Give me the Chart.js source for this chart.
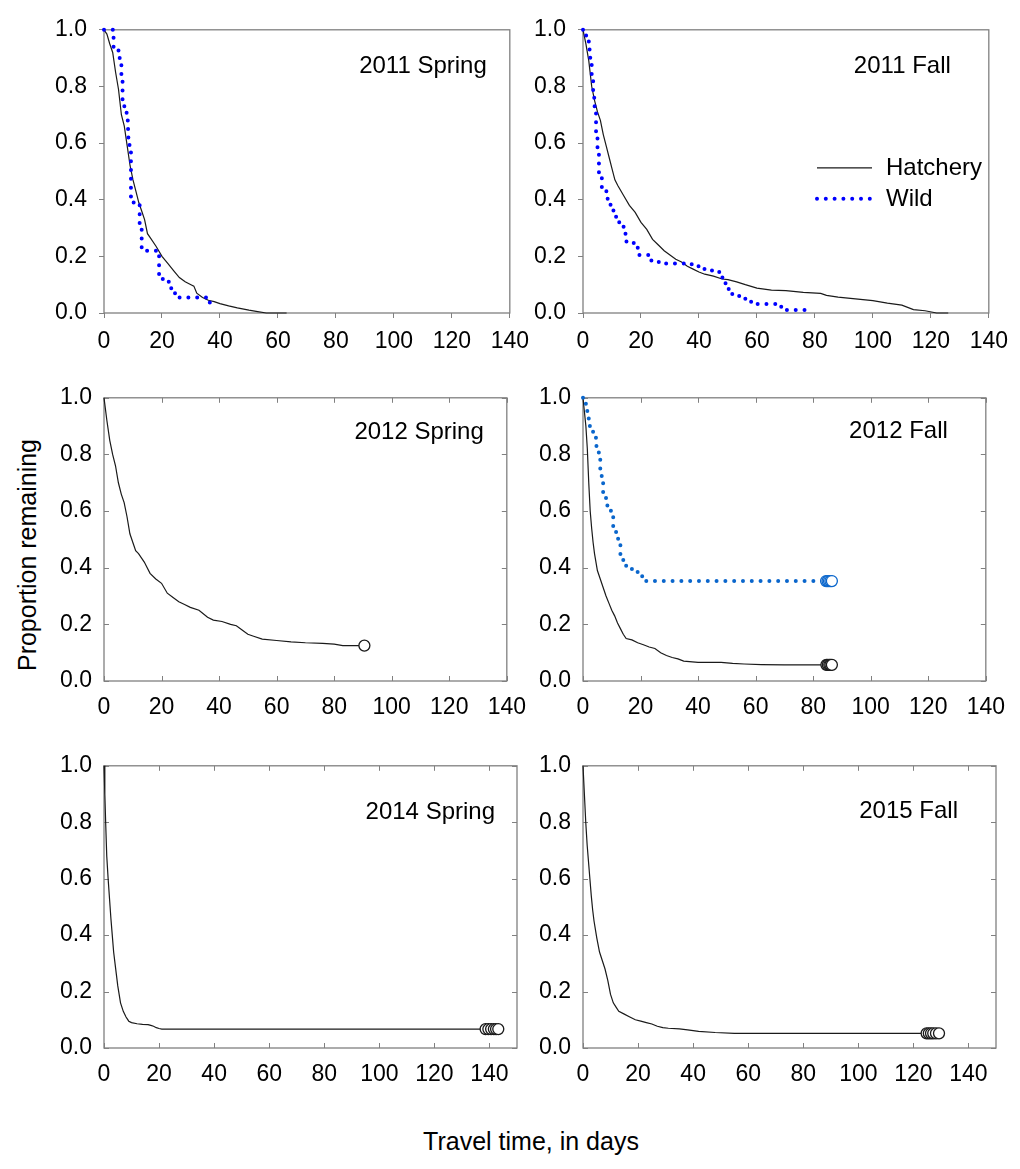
<!DOCTYPE html>
<html>
<head>
<meta charset="utf-8">
<script src="https://cdn.jsdelivr.net/npm/chart.js@4.4.1/dist/chart.umd.min.js"></script>
<style>
  html, body { margin: 0; padding: 0; background: #fff; overflow: hidden; }
  body { width: 1020px; height: 1169px; position: relative; font-family: "Liberation Sans", Arial, sans-serif; }
  canvas { position: absolute; }
  .axis-title { position: absolute; font-size: 25px; color: #000; white-space: nowrap; }
  #ytitle { left: 27px; top: 555px; transform: translate(-50%, -50%) rotate(-90deg); }
  #xtitle { left: 531px; top: 1141px; transform: translate(-50%, -50%); }
</style>
</head>
<body>
<canvas id="p1"></canvas>
<canvas id="p2"></canvas>
<canvas id="p3"></canvas>
<canvas id="p4"></canvas>
<canvas id="p5"></canvas>
<canvas id="p6"></canvas>
<div class="axis-title" id="ytitle">Proportion remaining</div>
<div class="axis-title" id="xtitle">Travel time, in days</div>
<script>
// 2011 Spring
const spr11HatchDays = [0, 1, 2, 3, 4, 5, 6, 7, 8, 9, 10, 11, 12, 13, 14, 15, 16, 18, 20, 22, 24, 26, 28, 30, 31, 32, 34, 36, 38, 40, 43, 46, 50, 53, 56, 63];
const spr11HatchProp = [1, 0.985, 0.95, 0.92, 0.85, 0.79, 0.70, 0.66, 0.59, 0.52, 0.47, 0.43, 0.39, 0.36, 0.33, 0.28, 0.265, 0.235, 0.20, 0.175, 0.15, 0.125, 0.11, 0.10, 0.095, 0.07, 0.055, 0.045, 0.04, 0.033, 0.025, 0.018, 0.01, 0.005, 0.0, 0.0];
const spr11WildDays = [0, 3.3, 5.0, 6.0, 6.4, 7.8, 8.3, 8.8, 9.3, 12.3, 13.0, 19.0, 20.5, 23.2, 24.5, 36.5];
const spr11WildProp = [1.0, 0.94, 0.90, 0.84, 0.73, 0.68, 0.62, 0.57, 0.39, 0.30, 0.22, 0.12, 0.11, 0.07, 0.055, 0.02];

// 2011 Fall
const fal11HatchDays = [0, 1, 2, 3, 4, 5, 6, 7, 8, 9, 10, 11, 12, 14, 16, 18, 20, 22, 24, 26, 28, 30, 32, 34, 36, 38, 40, 42, 45, 48, 50, 53, 56, 60, 65, 70, 76, 82, 84, 88, 94, 100, 105, 110, 114, 118, 122, 126];
const fal11HatchProp = [1, 0.95, 0.89, 0.80, 0.75, 0.71, 0.68, 0.63, 0.59, 0.55, 0.51, 0.47, 0.45, 0.415, 0.38, 0.355, 0.32, 0.295, 0.26, 0.24, 0.22, 0.205, 0.19, 0.18, 0.165, 0.155, 0.145, 0.137, 0.13, 0.12, 0.118, 0.11, 0.10, 0.088, 0.081, 0.079, 0.073, 0.069, 0.062, 0.056, 0.05, 0.044, 0.035, 0.028, 0.012, 0.008, 0.0, 0.0];
const fal11WildDays = [0, 1, 2, 2.5, 3, 3.5, 4, 4.5, 5, 5.5, 6.5, 8.5, 9.5, 10.5, 12.5, 14, 15, 17.5, 19, 22.5, 25, 28, 37.5, 40, 44.5, 47, 48.5, 50, 51.5, 56, 58, 67.5, 70, 78.5];
const fal11WildProp = [1, 0.98, 0.93, 0.88, 0.82, 0.76, 0.71, 0.64, 0.56, 0.49, 0.43, 0.40, 0.37, 0.34, 0.31, 0.28, 0.25, 0.23, 0.205, 0.185, 0.18, 0.175, 0.165, 0.155, 0.145, 0.125, 0.105, 0.085, 0.06, 0.045, 0.032, 0.022, 0.011, 0.011];

// 2012 Spring
const spr12HatchDays = [0, 1, 2, 3, 4, 5, 6, 7, 8, 9, 10, 11, 12, 13, 14, 16, 18, 20, 22, 24, 26, 28, 30, 33, 36, 38, 41, 44, 46, 48, 50, 52, 55, 60, 65, 70, 76, 80, 83, 90.5];
const spr12HatchProp = [1, 0.92, 0.85, 0.80, 0.76, 0.70, 0.66, 0.63, 0.58, 0.52, 0.49, 0.46, 0.45, 0.435, 0.42, 0.38, 0.36, 0.345, 0.31, 0.295, 0.28, 0.27, 0.26, 0.25, 0.225, 0.215, 0.21, 0.20, 0.195, 0.18, 0.165, 0.158, 0.148, 0.143, 0.138, 0.135, 0.133, 0.13, 0.125, 0.125];
const spr12CensDays = [90.5];
const spr12CensProp = [0.125];

// 2012 Fall
const fal12HatchDays = [0, 0.5, 1, 1.5, 2, 2.5, 3, 3.5, 4, 5, 6, 7, 8, 9, 10, 11, 12, 13, 14, 15, 17, 19, 21, 23, 25, 27, 29, 31, 33, 35, 40, 48, 52, 56, 62, 70, 84.6];
const fal12HatchProp = [1, 0.95, 0.90, 0.82, 0.70, 0.60, 0.54, 0.49, 0.45, 0.39, 0.36, 0.33, 0.30, 0.275, 0.25, 0.23, 0.205, 0.185, 0.165, 0.15, 0.145, 0.135, 0.128, 0.12, 0.115, 0.10, 0.09, 0.083, 0.078, 0.07, 0.066, 0.066, 0.062, 0.06, 0.058, 0.057, 0.057];
const fal12HatchCensDays = [84.6, 85.1, 85.6, 86.0, 86.5];
const fal12HatchCensProp = [0.057, 0.057, 0.057, 0.057, 0.057];
const fal12WildDays = [0, 1, 1.5, 2, 3.5, 4.5, 5.5, 6, 6.5, 7, 8, 9.7, 10.5, 11.5, 12.2, 13, 14, 15, 17, 20.5, 22, 84.5];
const fal12WildProp = [1, 0.975, 0.95, 0.90, 0.87, 0.83, 0.79, 0.75, 0.71, 0.66, 0.62, 0.60, 0.54, 0.51, 0.48, 0.445, 0.42, 0.40, 0.385, 0.37, 0.353, 0.353];
const fal12WildCensDays = [84.5, 85.0, 85.5, 86.0, 86.5];
const fal12WildCensProp = [0.353, 0.353, 0.353, 0.353, 0.353];

// 2014 Spring
const spr14HatchDays = [0, 0.3, 0.6, 1, 1.5, 2, 2.5, 3, 3.5, 4, 4.5, 5, 5.5, 6, 7, 8, 9, 10, 12, 14, 16, 17, 18, 19, 20, 21, 138.6];
const spr14HatchProp = [1, 0.90, 0.80, 0.68, 0.60, 0.53, 0.46, 0.40, 0.34, 0.30, 0.26, 0.22, 0.19, 0.16, 0.13, 0.11, 0.095, 0.09, 0.086, 0.084, 0.083, 0.08, 0.077, 0.072, 0.069, 0.067, 0.067];
const spr14CensDays = [138.6, 139.6, 140.6, 141.6, 142.4, 143.2];
const spr14CensProp = [0.067, 0.067, 0.067, 0.067, 0.067, 0.067];

// 2015 Fall
const fal15HatchDays = [0, 0.5, 1, 1.5, 2, 2.5, 3, 3.5, 4, 5, 6, 7, 8, 9, 10, 11, 12, 13, 15, 17, 19, 21, 23, 25, 27, 29, 31, 35, 38, 42, 48, 55, 124.8];
const fal15HatchProp = [1, 0.90, 0.80, 0.72, 0.66, 0.60, 0.54, 0.49, 0.45, 0.39, 0.34, 0.31, 0.28, 0.24, 0.19, 0.16, 0.145, 0.13, 0.12, 0.11, 0.10, 0.095, 0.09, 0.085, 0.077, 0.072, 0.07, 0.068, 0.064, 0.059, 0.055, 0.052, 0.052];
const fal15CensDays = [124.8, 125.6, 126.4, 127.2, 128.2, 129.3];
const fal15CensProp = [0.052, 0.052, 0.052, 0.052, 0.052, 0.052];

const FONT = '"Liberation Sans", Arial, sans-serif';
const FRAME = '#808080';
const INK = '#1a1a1a';
const BLUE = '#0000ff';
const BLUE2 = '#0a66cc';

function pts(days, prop) {
  return days.map((d, i) => ({ x: d, y: prop[i] }));
}

// hatchery curves have so many tiny steps they read as a plain line
function hatchLine(days, prop) {
  return { label: 'Hatchery', data: pts(days, prop), borderColor: INK, borderWidth: 1.2,
    stepped: false, tension: 0, pointRadius: 0, clip: false, order: 2 };
}

function wildLine(days, prop, color) {
  return { label: 'Wild', data: pts(days, prop), borderColor: color, borderWidth: 4,
    borderDash: [0, 8.8], borderCapStyle: 'round', stepped: true, pointRadius: 0, clip: false, order: 1 };
}

function censored(days, prop, color) {
  return { label: '', data: pts(days, prop), showLine: false, pointRadius: 5.5, pointBorderWidth: 1.3,
    pointBackgroundColor: '#fff', pointBorderColor: color, clip: false, order: 0 };
}

// box round the plot area, and inward tick marks for the lower rows
const framePlugin = {
  id: 'frame',
  beforeDatasetsDraw(chart, args, opts) {
    const { ctx, chartArea: a, scales: { x, y } } = chart;
    ctx.save();
    ctx.strokeStyle = FRAME;
    ctx.lineWidth = 1.3;
    ctx.strokeRect(a.left, a.top, a.right - a.left, a.bottom - a.top);
    if (opts.inward) {
      ctx.lineWidth = 1;
      ctx.beginPath();
      x.ticks.forEach(t => {
        const px = Math.round(x.getPixelForValue(t.value)) + 0.5;
        ctx.moveTo(px, a.bottom); ctx.lineTo(px, a.bottom - 5);
        ctx.moveTo(px, a.top); ctx.lineTo(px, a.top + 5);
      });
      y.ticks.forEach(t => {
        const py = Math.round(y.getPixelForValue(t.value)) + 0.5;
        ctx.moveTo(a.left, py); ctx.lineTo(a.left + 5, py);
        ctx.moveTo(a.right, py); ctx.lineTo(a.right - 5, py);
      });
      ctx.stroke();
    }
    ctx.restore();
  }
};

const panelLabelPlugin = {
  id: 'panelLabel',
  afterDraw(chart, args, opts) {
    if (!opts.text) return;
    const { ctx, chartArea: a } = chart;
    ctx.save();
    ctx.font = '24px ' + FONT;
    ctx.fillStyle = '#000';
    ctx.textAlign = 'right';
    ctx.textBaseline = 'alphabetic';
    ctx.fillText(opts.text, a.right - opts.dx, a.top + opts.dy);
    ctx.restore();
  }
};

const keyPlugin = {
  id: 'keyBox',
  afterDraw(chart, args, opts) {
    if (!opts.show) return;
    const { ctx, chartArea: a } = chart;
    const sets = chart.data.datasets.filter(d => d.label);
    ctx.save();
    sets.forEach((ds, i) => {
      const yy = a.top + opts.rows[i];
      ctx.strokeStyle = ds.borderColor;
      ctx.lineWidth = ds.borderWidth;
      ctx.setLineDash(ds.borderDash || []);
      ctx.lineCap = ds.borderCapStyle || 'butt';
      ctx.beginPath();
      ctx.moveTo(a.left + opts.x0, yy);
      ctx.lineTo(a.left + opts.x1, yy);
      ctx.stroke();
      ctx.setLineDash([]);
      ctx.font = '24px ' + FONT;
      ctx.fillStyle = '#000';
      ctx.textAlign = 'left';
      ctx.textBaseline = 'middle';
      ctx.fillText(ds.label, a.left + opts.textX, yy + 1);
    });
    ctx.restore();
  }
};

const AREA_W = 413;
const PAD_TOP = 15;
const Y_W = 60;
const X_H = 45;
const PAD_RIGHT = 22;

function makePanel(id, left, top, areaH, xMax, firstRow, datasets, label, key) {
  const cv = document.getElementById(id);
  cv.width = Y_W + AREA_W + PAD_RIGHT;
  cv.height = PAD_TOP + areaH + X_H;
  cv.style.left = (left - Y_W) + 'px';
  cv.style.top = (top - PAD_TOP) + 'px';
  const grid = firstRow
    ? { drawOnChartArea: false, drawTicks: true, tickLength: 5, tickColor: FRAME }
    : { display: false, drawTicks: false };
  return new Chart(cv, {
    type: 'line',
    data: { datasets },
    plugins: [framePlugin, panelLabelPlugin, keyPlugin],
    options: {
      responsive: false,
      animation: false,
      events: [],
      layout: { padding: { top: PAD_TOP, right: PAD_RIGHT, left: 0, bottom: 0 } },
      scales: {
        x: {
          type: 'linear', min: 0, max: xMax,
          grid: grid,
          border: { display: false },
          ticks: { stepSize: 20, includeBounds: false, maxRotation: 0, autoSkip: false,
            padding: firstRow ? 10 : 13, color: '#000', font: { family: FONT, size: 23 },
            callback: v => String(v) },
          afterFit: s => { s.height = X_H; }
        },
        y: {
          type: 'linear', min: 0, max: 1,
          grid: grid,
          border: { display: false },
          ticks: { stepSize: 0.2, padding: 12, color: '#000', font: { family: FONT, size: 23 },
            callback: v => Number(v).toFixed(1) },
          afterFit: s => { s.width = Y_W; }
        }
      },
      plugins: {
        legend: { display: false },
        tooltip: { enabled: false },
        frame: { inward: !firstRow },
        panelLabel: label,
        keyBox: key || { show: false }
      }
    }
  });
}

makePanel('p1', 104, 19, 294, 140, true,
  [hatchLine(spr11HatchDays, spr11HatchProp), wildLine(spr11WildDays, spr11WildProp, BLUE)],
  { text: '2011 Spring', dx: 23, dy: 43 });

makePanel('p2', 583, 19, 294, 140, true,
  [hatchLine(fal11HatchDays, fal11HatchProp), wildLine(fal11WildDays, fal11WildProp, BLUE)],
  { text: '2011 Fall', dx: 38, dy: 43 },
  { show: true, x0: 234, x1: 289, rows: [138, 169], textX: 303 });

makePanel('p3', 104, 387, 294, 140, false,
  [hatchLine(spr12HatchDays, spr12HatchProp), censored(spr12CensDays, spr12CensProp, INK)],
  { text: '2012 Spring', dx: 23, dy: 41 });

makePanel('p4', 583, 387, 294, 140, false,
  [hatchLine(fal12HatchDays, fal12HatchProp), wildLine(fal12WildDays, fal12WildProp, BLUE2),
   censored(fal12HatchCensDays, fal12HatchCensProp, INK), censored(fal12WildCensDays, fal12WildCensProp, BLUE2)],
  { text: '2012 Fall', dx: 38, dy: 40 });

makePanel('p5', 104, 755, 293, 150, false,
  [hatchLine(spr14HatchDays, spr14HatchProp), censored(spr14CensDays, spr14CensProp, INK)],
  { text: '2014 Spring', dx: 22, dy: 53 });

makePanel('p6', 583, 755, 293, 150, false,
  [hatchLine(fal15HatchDays, fal15HatchProp), censored(fal15CensDays, fal15CensProp, INK)],
  { text: '2015 Fall', dx: 38, dy: 52 });
</script>
</body>
</html>
